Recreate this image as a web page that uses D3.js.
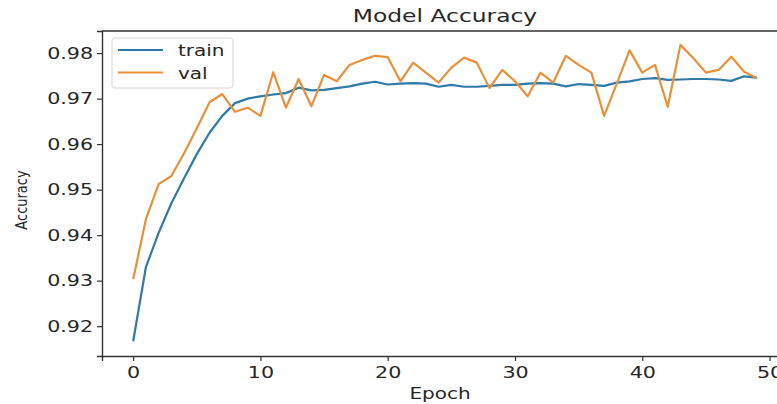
<!DOCTYPE html>
<html>
<head>
<meta charset="utf-8">
<script src="https://cdn.jsdelivr.net/npm/d3@7"></script>
<style>
  body { margin: 0; background: #fff; }
  text { font-family: "DejaVu Sans", sans-serif; fill: #262626; }
</style>
</head>
<body>
<div id="chart"></div>
<script>
// values
var trainAcc = [0.9167, 0.9330, 0.9405, 0.9470, 0.9525, 0.9578, 0.9625, 0.9662, 0.9690, 0.9700,
  0.9705, 0.9709, 0.9712, 0.9724, 0.9718, 0.9719, 0.9723, 0.9727, 0.9733, 0.9737,
  0.9731, 0.9733, 0.9734, 0.9733, 0.9726, 0.9730, 0.9726, 0.9726, 0.9728, 0.9730,
  0.9730, 0.9733, 0.9734, 0.9733, 0.9727, 0.9732, 0.9730, 0.9728, 0.9735, 0.9738,
  0.9743, 0.9745, 0.9741, 0.9742, 0.9743, 0.9743, 0.9742, 0.9739, 0.9749, 0.9746];
var valAcc = [0.9303, 0.9435, 0.9512, 0.9530, 0.9580, 0.9635, 0.9692, 0.9710, 0.9671, 0.9680,
  0.9662, 0.9758, 0.9680, 0.9743, 0.9683, 0.9752, 0.9738, 0.9774, 0.9785, 0.9794,
  0.9791, 0.9738, 0.9779, 0.9757, 0.9735, 0.9768, 0.9790, 0.9779, 0.9723, 0.9763,
  0.9738, 0.9705, 0.9757, 0.9735, 0.9794, 0.9774, 0.9757, 0.9662, 0.9733, 0.9806,
  0.9757, 0.9774, 0.9682, 0.9818, 0.9789, 0.9757, 0.9763, 0.9792, 0.9759, 0.9745];
var xTicks = [0, 10, 20, 30, 40, 50];
var yTicks = [0.92, 0.93, 0.94, 0.95, 0.96, 0.97, 0.98];
var seriesNames = ["train", "val"];
var seriesColors = ["#2f7aa6", "#e8903a"];

var width = 777;
var height = 404;
var sx = 1.25; // picture is stretched sideways

var svg = d3.select("#chart")
  .append("svg")
  .attr("width", width)
  .attr("height", height);

svg.append("rect").attr("width", width).attr("height", height).attr("fill", "#fff");

var xScale = d3.scaleLinear().domain([-2.45, 51.45]).range([102, 788]);
var yScale = d3.scaleLinear().domain([0.91345, 0.98485]).range([356, 31]);

// axes
var xAxis = d3.axisBottom(xScale).tickValues(xTicks).tickSize(5).tickPadding(5);
var yAxis = d3.axisLeft(yScale).tickValues(yTicks).tickSize(5).tickPadding(6)
  .tickFormat(d3.format(".2f"));

var gx = svg.append("g")
  .attr("transform", "translate(0," + 356 + ")")
  .call(xAxis);
var gy = svg.append("g")
  .attr("transform", "translate(" + 102 + ",0)")
  .call(yAxis);

[gx, gy].forEach(function(g) {
  g.select(".domain").attr("stroke", "#333").attr("stroke-width", 1.4);
  g.selectAll(".tick line").attr("stroke", "#333").attr("stroke-width", 1.2);
  g.selectAll(".tick text")
    .attr("font-size", 16.5)
    .attr("font-family", "DejaVu Sans")
    .attr("fill", "#333");
});
gy.selectAll(".tick text").attr("transform", "scale(" + sx + ",1)").attr("x", -9 / sx);
gx.selectAll(".tick text").attr("transform", "scale(" + sx + ",1)");

// top spine
svg.append("line")
  .attr("x1", 102).attr("x2", 788)
  .attr("y1", 31).attr("y2", 31)
  .attr("stroke", "#333").attr("stroke-width", 1.4);

// lines
var line = d3.line()
  .x(function(d, i) { return xScale(i); })
  .y(function(d) { return yScale(d); });

[trainAcc, valAcc].forEach(function(s, k) {
  svg.append("path")
    .datum(s)
    .attr("d", line)
    .attr("fill", "none")
    .attr("stroke", seriesColors[k])
    .attr("stroke-width", 2.2)
    .attr("stroke-linejoin", "round");
});

// title & labels
svg.append("text")
  .attr("transform", "translate(445,22) scale(1.3,1)")
  .attr("text-anchor", "middle")
  .attr("font-size", 18)
  .text("Model Accuracy");

svg.append("text")
  .attr("transform", "translate(440,399) scale(" + sx + ",1)")
  .attr("text-anchor", "middle")
  .attr("font-size", 16)
  .text("Epoch");

svg.append("text")
  .attr("transform", "translate(27,200) scale(" + sx + ",1) rotate(-90)")
  .attr("text-anchor", "middle")
  .attr("font-size", 13)
  .text("Accuracy");

// legend
var legend = svg.append("g");
legend.append("rect")
  .attr("x", 112).attr("y", 38)
  .attr("width", 121).attr("height", 50)
  .attr("rx", 3)
  .attr("fill", "#fff")
  .attr("stroke", "#d6d6d6");
seriesNames.forEach(function(name, k) {
  var yy = 50 + k * 22.5;
  legend.append("line")
    .attr("x1", 118).attr("x2", 163)
    .attr("y1", yy).attr("y2", yy)
    .attr("stroke", seriesColors[k])
    .attr("stroke-width", 2.2);
  legend.append("text")
    .attr("transform", "translate(178," + (yy + 6) + ") scale(" + sx + ",1)")
    .attr("font-size", 16)
    .text(name);
});
</script>
</body>
</html>
